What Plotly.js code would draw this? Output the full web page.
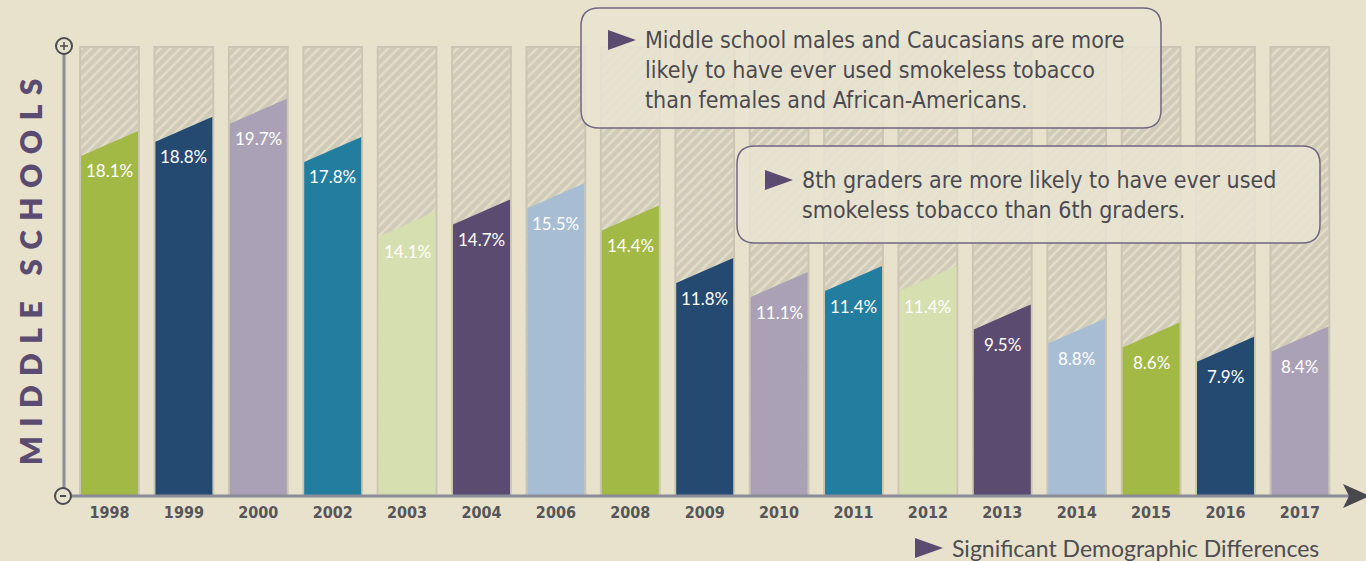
<!DOCTYPE html>
<html>
<head>
<meta charset="utf-8">
<script src="https://cdn.plot.ly/plotly-3.0.1.min.js"></script>
<style>
  html, body { margin: 0; padding: 0; background: #e8e2cc; }
  #chart { width: 1366px; height: 561px; }
</style>
</head>
<body>
<div id="chart"></div>
<script>
// data
const years = ["1998", "1999", "2000", "2002", "2003", "2004", "2006", "2008", "2009",
  "2010", "2011", "2012", "2013", "2014", "2015", "2016", "2017"];
const values = [18.1, 18.8, 19.7, 17.8, 14.1, 14.7, 15.5, 14.4, 11.8,
  11.1, 11.4, 11.4, 9.5, 8.8, 8.6, 7.9, 8.4];
const palette = ["#a3b946", "#244a72", "#aba1b6", "#227d9f", "#d6dfb0", "#5c4b70", "#a6bdd3"];
const note1 = ["Middle school males and Caucasians are more",
  "likely to have ever used smokeless tobacco",
  "than females and African-Americans."];
const note2 = ["8th graders are more likely to have ever used",
  "smokeless tobacco than 6th graders."];
const footNote = "Significant Demographic Differences";
const sideTitle = "MIDDLE SCHOOLS";

// plot geometry (pixels)
const W = 1366, H = 561;
const X0 = 64, X1 = 1366, Y0 = 496, Y1 = 46;
const PW = X1 - X0, PH = Y0 - Y1;
const yMax = 22.31;
const fullH = 22.26;
const slant = 1.24;
const barHalf = 0.383;
const px = (x) => (x - X0) / PW;
const py = (y) => (Y0 - y) / PH;

const condFont = "'Liberation Sans Narrow', 'DejaVu Sans Condensed', 'Arial Narrow', sans-serif";
const roundFont = "Lato, 'Noto Sans', sans-serif";

// ====== traces ======
const idx = years.map((_, i) => i);
const traces = [];

traces.push({
  type: "bar",
  x: idx,
  y: idx.map(() => fullH),
  width: 0.79,
  marker: {
    color: "#d2cdbb",
    line: { color: "#cbc6b3", width: 2 },
    pattern: { shape: "/", fgcolor: "#e4dec8", bgcolor: "#d0cbb9", size: 7, solidity: 0.35 }
  },
  hoverinfo: "skip",
  showlegend: false
});

values.forEach((v, i) => {
  traces.push({
    type: "scatter",
    mode: "lines",
    x: [i - barHalf, i - barHalf, i + barHalf, i + barHalf],
    y: [0, v - slant, v, 0],
    fill: "toself",
    fillcolor: palette[i % palette.length],
    line: { width: 0 },
    hoverinfo: "skip",
    showlegend: false
  });
});

// ====== annotations ======
const annotations = values.map((v, i) => ({
  x: i, y: v - slant, yshift: -15,
  text: v.toFixed(1) + "%",
  showarrow: false,
  font: { family: roundFont, size: 17, color: "#ffffff" }
}));

annotations.push({
  xref: "paper", yref: "paper", x: px(643), y: py(70),
  xanchor: "left", yanchor: "middle", align: "left",
  text: note1.join("<br>"), showarrow: false,
  font: { family: condFont, size: 23, color: "#4b4a50" }
});
annotations.push({
  xref: "paper", yref: "paper", x: px(800), y: py(195),
  xanchor: "left", yanchor: "middle", align: "left",
  text: note2.join("<br>"), showarrow: false,
  font: { family: condFont, size: 23, color: "#4b4a50" }
});
annotations.push({
  xref: "paper", yref: "paper", x: px(950), y: py(548),
  xanchor: "left", yanchor: "middle",
  text: footNote, showarrow: false,
  font: { family: roundFont, size: 23, color: "#4d4d52" }
});
annotations.push({
  xref: "paper", yref: "paper", x: px(30), y: py(272),
  xanchor: "center", yanchor: "middle", textangle: -90,
  text: sideTitle.split("").join("\u2009\u2009\u200a"), showarrow: false,
  font: { family: roundFont, size: 30, color: "#5c4b70", weight: 800 }
});

// ====== shapes ======
function roundRect(x1, y1, x2, y2, r) {
  const p = (x, y) => px(x) + "," + py(y);
  return "M" + p(x1 + r, y1) + " L" + p(x2 - r, y1) +
    " Q" + p(x2, y1) + " " + p(x2, y1 + r) +
    " L" + p(x2, y2 - r) + " Q" + p(x2, y2) + " " + p(x2 - r, y2) +
    " L" + p(x1 + r, y2) + " Q" + p(x1, y2) + " " + p(x1, y2 - r) +
    " L" + p(x1, y1 + r) + " Q" + p(x1, y1) + " " + p(x1 + r, y1) + " Z";
}
function tri(x, yc) {
  return "M" + px(x) + "," + py(yc - 10) + " L" + px(x + 28) + "," + py(yc) +
    " L" + px(x) + "," + py(yc + 10) + " Z";
}
function seg(x0, y0, x1, y1, color, width) {
  return { type: "line", xref: "paper", yref: "paper",
    x0: px(x0), x1: px(x1), y0: py(y0), y1: py(y1), line: { color: color, width: width } };
}

const shapes = [
  seg(64, 46, 64, 496, "#8c8b97", 3),
  seg(64, 496, 1350, 496, "#8c8b97", 3),
  { type: "path", xref: "paper", yref: "paper",
    path: "M" + px(1343) + "," + py(484) + " L" + px(1370) + "," + py(496) +
      " L" + px(1343) + "," + py(508) + " L" + px(1349) + "," + py(496) + " Z",
    fillcolor: "#48484d", line: { width: 0 } },
  { type: "circle", xref: "paper", yref: "paper",
    x0: px(56), x1: px(72), y0: py(54), y1: py(38),
    fillcolor: "#e8e2cc", line: { color: "#4a4a50", width: 2 } },
  seg(60, 46, 68, 46, "#4a4a50", 1.5),
  seg(64, 42, 64, 50, "#4a4a50", 1.5),
  { type: "circle", xref: "paper", yref: "paper",
    x0: px(55), x1: px(71), y0: py(504), y1: py(488),
    fillcolor: "#e8e2cc", line: { color: "#4a4a50", width: 2 } },
  seg(60, 496, 66, 496, "#4a4a50", 2),
  { type: "path", xref: "paper", yref: "paper", path: roundRect(581, 8, 1161, 128, 18),
    fillcolor: "rgba(232,228,208,0.88)", line: { color: "#6f6781", width: 1.5 } },
  { type: "path", xref: "paper", yref: "paper", path: roundRect(737, 146, 1320, 243, 18),
    fillcolor: "rgba(232,228,208,0.88)", line: { color: "#6f6781", width: 1.5 } },
  { type: "path", xref: "paper", yref: "paper", path: tri(608, 40),
    fillcolor: "#5c4b70", line: { width: 0 } },
  { type: "path", xref: "paper", yref: "paper", path: tri(765, 180),
    fillcolor: "#5c4b70", line: { width: 0 } },
  { type: "path", xref: "paper", yref: "paper", path: tri(915, 548),
    fillcolor: "#5c4b70", line: { width: 0 } }
];

const layout = {
  width: W, height: H,
  margin: { l: X0, r: W - X1, t: Y1, b: H - Y0, pad: 0 },
  paper_bgcolor: "#e8e2cc",
  plot_bgcolor: "rgba(0,0,0,0)",
  showlegend: false,
  xaxis: {
    range: [(X0 - 109.5) / 74.4, (X1 - 109.5) / 74.4],
    tickvals: idx, ticktext: years,
    ticks: "", showgrid: false, zeroline: false, showline: false,
    tickfont: { family: condFont, size: 16, color: "#55555a", weight: "bold" },
    ticklabelstandoff: 5,
    fixedrange: true
  },
  yaxis: { range: [0, yMax], visible: false, fixedrange: true },
  shapes: shapes,
  annotations: annotations
};

Plotly.newPlot("chart", traces, layout, { displayModeBar: false, staticPlot: true });
</script>
</body>
</html>
